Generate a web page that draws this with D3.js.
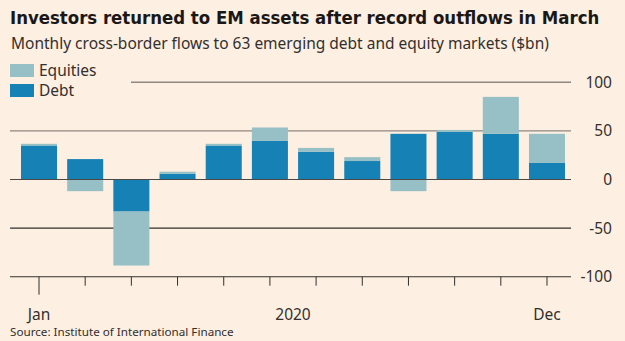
<!DOCTYPE html>
<html>
<head>
<meta charset="utf-8">
<script src="https://cdn.jsdelivr.net/npm/d3@7"></script>
<style>
  body { margin: 0; background: #fdefe1; }
  svg { display: block; }
</style>
</head>
<body>
<script>
'use strict';

// months of 2020, flows in $bn
var months = ['Jan', 'Feb', 'Mar', 'Apr', 'May', 'Jun', 'Jul', 'Aug', 'Sep', 'Oct', 'Nov', 'Dec'];
var debt     = [35, 21, -33, 6, 35, 40, 28.5, 19, 47, 49, 47, 17];
var equities = [1.7, -12, -55.5, 2, 1.7, 13.5, 4, 4, -12, 2, 38, 30];
var yTicks = [100, 50, 0, -50, -100];
var xLabels = [['Jan', 0], ['2020', 5.5], ['Dec', 11]];

var W = 625, H = 341;
var ink = '#33302e';

var svg = d3.select('body').append('svg')
    .attr('width', W)
    .attr('height', H);

svg.append('rect')
    .attr('width', W)
    .attr('height', H)
    .attr('fill', '#fdefe1');

// shrink a text's font until it fits the width wanted
function fitText(sel, maxW, size) {
    var w = sel.node().getComputedTextLength();
    if (w > maxW) {
        sel.style('font-size', (size * maxW / w) + 'px');
    }
}

// title + subtitle
var title = svg.append('text')
    .attr('x', 10)
    .attr('y', 24)
    .style('font-family', '"Liberation Sans Narrow", "DejaVu Sans Condensed", "Noto Sans", sans-serif')
    .style('font-weight', 'bold')
    .style('font-size', '21px')
    .attr('fill', '#1a1817')
    .text('Investors returned to EM assets after record outflows in March');
fitText(title, 590, 21);

var sub = svg.append('text')
    .attr('x', 11)
    .attr('y', 49)
    .style('font-family', '"Noto Sans", sans-serif')
    .style('font-size', '15.5px')
    .attr('fill', ink)
    .text('Monthly cross-border flows to 63 emerging debt and equity markets ($bn)');
fitText(sub, 545, 15.5);

var x = d3.scaleBand()
    .domain(months)
    .range([10, 576])
    .paddingInner(0.22)
    .paddingOuter(0.238);

var y = d3.scaleLinear()
    .domain([-100, 100])
    .range([276.7, 82.3]);

// gridlines
var gridColor = function (d) {
    if (d > 0) { return '#8f8780'; }
    if (d === 0) { return '#4d4845'; }
    return ink;
};
svg.append('g').selectAll('line')
    .data(yTicks)
    .enter()
    .append('line')
    .attr('x1', function (d) { return d === 100 ? 131 : 10; })
    .attr('x2', 571)
    .attr('y1', function (d) { return y(d); })
    .attr('y2', function (d) { return y(d); })
    .attr('stroke', gridColor)
    .attr('stroke-width', function (d) { return d > 0 ? 1.4 : 1.1; });

// y labels on the right
svg.append('g').selectAll('text')
    .data(yTicks)
    .enter()
    .append('text')
    .attr('x', 612)
    .attr('y', function (d) { return y(d); })
    .attr('dy', '0.36em')
    .attr('text-anchor', 'end')
    .style('font-family', '"Noto Sans", sans-serif')
    .style('font-size', '15.5px')
    .attr('fill', ink)
    .text(function (d) { return d; });

// stacked bars, debt next to zero
var rows = months.map(function (m, i) {
    return { month: m, debt: debt[i], equities: equities[i] };
});
var stack = d3.stack()
    .keys(['debt', 'equities'])
    .offset(d3.stackOffsetDiverging);
var series = stack(rows);
var colors = { debt: '#1581b4', equities: '#96bfc6' };

svg.append('g').selectAll('g')
    .data(series)
    .enter()
    .append('g')
    .attr('fill', function (s) { return colors[s.key]; })
    .selectAll('rect')
    .data(function (s) { return s; })
    .enter()
    .append('rect')
    .attr('x', function (d) { return x(d.data.month); })
    .attr('width', x.bandwidth())
    .attr('y', function (d) { return y(Math.max(d[0], d[1])); })
    .attr('height', function (d) { return Math.abs(y(d[0]) - y(d[1])); });

// zero line drawn again over the bars
svg.append('line')
    .attr('x1', 10)
    .attr('x2', 571)
    .attr('y1', y(0))
    .attr('y2', y(0))
    .attr('stroke', '#4d4845')
    .attr('stroke-width', 1.1);

// x axis ticks at bar centres
svg.append('g').selectAll('line')
    .data(months)
    .enter()
    .append('line')
    .attr('x1', function (d) { return x(d) + x.bandwidth() / 2; })
    .attr('x2', function (d) { return x(d) + x.bandwidth() / 2; })
    .attr('y1', y(-100))
    .attr('y2', function (d, i) { return i === 0 ? y(-100) + 18 : y(-100) + 9; })
    .attr('stroke', ink)
    .attr('stroke-width', 1);

svg.append('g').selectAll('text')
    .data(xLabels)
    .enter()
    .append('text')
    .attr('x', function (d) {
        var a = months[Math.floor(d[1])], b = months[Math.ceil(d[1])];
        return (x(a) + x(b)) / 2 + x.bandwidth() / 2;
    })
    .attr('y', 320)
    .attr('text-anchor', 'middle')
    .style('font-family', '"Noto Sans", sans-serif')
    .style('font-size', '15.5px')
    .attr('fill', ink)
    .text(function (d) { return d[0]; });

// legend
var legend = [['Equities', colors.equities], ['Debt', colors.debt]];
var lg = svg.append('g').selectAll('g')
    .data(legend)
    .enter()
    .append('g')
    .attr('transform', function (d, i) { return 'translate(10,' + (64 + i * 20) + ')'; });
lg.append('rect')
    .attr('width', 24)
    .attr('height', 13)
    .attr('fill', function (d) { return d[1]; });
lg.append('text')
    .attr('x', 29)
    .attr('y', 12)
    .style('font-family', '"Noto Sans", sans-serif')
    .style('font-size', '15.5px')
    .attr('fill', ink)
    .text(function (d) { return d[0]; });

var src = svg.append('text')
    .attr('x', 10)
    .attr('y', 336)
    .style('font-family', '"Noto Sans", sans-serif')
    .style('font-size', '12px')
    .attr('fill', ink)
    .text('Source: Institute of International Finance');
fitText(src, 224, 12);
</script>
</body>
</html>
